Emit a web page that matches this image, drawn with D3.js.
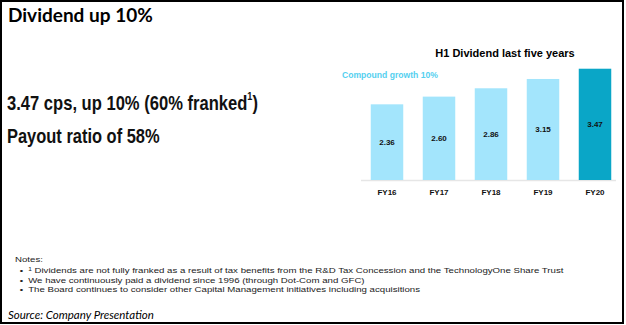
<!DOCTYPE html>
<html>
<head>
<meta charset="utf-8">
<script src="https://cdn.jsdelivr.net/npm/d3@7"></script>
<style>
  body { margin: 0; background: #fff; }
  svg { display: block; }
</style>
</head>
<body>
<svg id="chart" width="626" height="325"></svg>
<script>
// Chart data
const years = ["FY16", "FY17", "FY18", "FY19", "FY20"];
const dividends = [2.36, 2.60, 2.86, 3.15, 3.47];
const valueLabels = ["2.36", "2.60", "2.86", "3.15", "3.47"];
const notes = [
  "Dividends are not fully franked as a result of tax benefits from the R&D Tax Concession and the TechnologyOne Share Trust",
  "We have continuously paid a dividend since 1996 (through Dot-Com and GFC)",
  "The Board continues to consider other Capital Management initiatives including acquisitions"
];

const svg = d3.select("#chart");
const arial = "'Liberation Sans', Arial, sans-serif";

// frame
svg.append("rect")
    .attr("x", 1).attr("y", 1)
    .attr("width", 622).attr("height", 322)
    .attr("fill", "none")
    .attr("stroke", "#000")
    .attr("stroke-width", 2);

// slide title
svg.append("text")
    .attr("x", 8).attr("y", 22)
    .style("font-family", "Lato, sans-serif")
    .style("font-weight", "bold")
    .style("font-size", "19px")
    .attr("fill", "#000")
    .text("Dividend up 10%");

// squeeze a text horizontally so it spans the given width
function narrowText(xPos, yPos, width, build) {
    const g = svg.append("g");
    const t = g.append("text")
        .style("font-family", arial)
        .style("font-size", "20px")
        .style("font-weight", "bold")
        .attr("fill", "#111");
    build(t);
    const w = t.node().getBBox().width;
    g.attr("transform", `translate(${xPos},${yPos}) scale(${width / w},1)`);
}

narrowText(7, 110, 251, t => {
    t.append("tspan").text("3.47 cps, up 10% (60% franked");
    t.append("tspan").attr("dy", -10).style("font-size", "11px").text("1");
    t.append("tspan").attr("dy", 10).text(")");
});
narrowText(7, 143, 153, t => t.text("Payout ratio of 58%"));

// bar chart
const x = d3.scaleBand()
    .domain(years)
    .range([361, 621])
    .paddingInner(0.375)
    .paddingOuter(0.1875);

const y = d3.scaleLinear()
    .domain([0, 3.5])
    .range([180, 180 - 3.5 * 32.07]);

svg.append("text")
    .attr("x", 505).attr("y", 57)
    .attr("text-anchor", "middle")
    .style("font-family", arial)
    .style("font-weight", "bold")
    .style("font-size", "11px")
    .attr("fill", "#000")
    .text("H1 Dividend last five years");

svg.append("text")
    .attr("x", 342).attr("y", 78)
    .style("font-family", arial)
    .style("font-weight", "bold")
    .style("font-size", "8.6px")
    .attr("fill", "#55d0ef")
    .text("Compound growth 10%");

svg.append("line")
    .attr("x1", 361).attr("x2", 616)
    .attr("y1", y(0) + 0.5).attr("y2", y(0) + 0.5)
    .attr("stroke", "#e6e6e6")
    .attr("stroke-width", 1.5);

svg.selectAll(".bar")
    .data(dividends)
    .enter().append("rect")
    .attr("class", "bar")
    .attr("x", (d, i) => x(years[i]))
    .attr("y", d => y(d))
    .attr("width", x.bandwidth())
    .attr("height", d => y(0) - y(d))
    .attr("fill", (d, i) => i === years.length - 1 ? "#0aa6c7" : "#a3e5fc");

svg.selectAll(".val")
    .data(dividends)
    .enter().append("text")
    .attr("class", "val")
    .attr("x", (d, i) => x(years[i]) + x.bandwidth() / 2)
    .attr("y", d => (y(d) + y(0)) / 2 + 3)
    .attr("text-anchor", "middle")
    .style("font-family", arial)
    .style("font-weight", "bold")
    .style("font-size", "8px")
    .attr("fill", "#111")
    .text((d, i) => valueLabels[i]);

// category axis, labels only
const xAxis = svg.append("g")
    .attr("transform", `translate(0,${y(0)})`)
    .call(d3.axisBottom(x).tickSize(0).tickPadding(9));
xAxis.select(".domain").remove();
xAxis.selectAll("text")
    .style("font-family", arial)
    .style("font-weight", "bold")
    .style("font-size", "8px")
    .attr("fill", "#111");

// notes block, stretched horizontally so line 1 ends where the reference does
const noteG = svg.append("g");
const noteSize = "8.1px";
const noteText = (xx, yy) => noteG.append("text")
    .attr("x", xx).attr("y", yy)
    .style("font-family", arial)
    .style("font-size", noteSize)
    .attr("fill", "#222");

noteText(0, 262).text("Notes:").attr("x", 0);
let firstLine;
notes.forEach((n, i) => {
    const yy = 273.3 + i * 9.35;
    noteText(4, yy).text("•");
    const t = noteText(11, yy);
    if (i === 0) {
        t.append("tspan").attr("dy", -2).style("font-size", "5.5px").text("1");
        t.append("tspan").attr("dy", 2).text(" " + n);
        firstLine = t;
    } else {
        t.text(n);
    }
});
const bb = firstLine.node().getBBox();
const sx = (565 - 15) / (bb.x + bb.width);
noteG.attr("transform", `translate(15,0) scale(${sx},1)`);

svg.append("text")
    .attr("x", 8).attr("y", 319)
    .style("font-family", "Lato, sans-serif")
    .style("font-style", "italic")
    .style("font-size", "11.5px")
    .attr("fill", "#000")
    .text("Source: Company Presentation");
</script>
</body>
</html>
